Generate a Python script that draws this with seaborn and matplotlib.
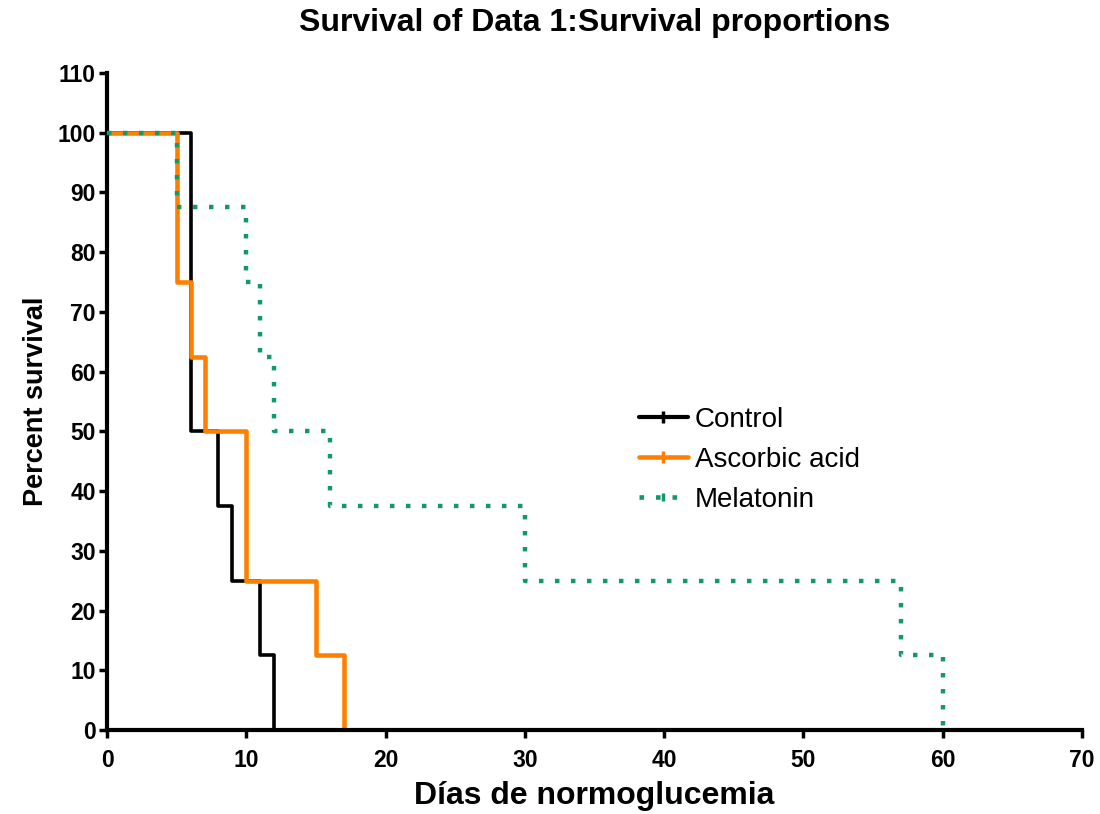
import numpy as np
import pandas as pd
import matplotlib
matplotlib.use("Agg")
import matplotlib.pyplot as plt
from matplotlib.lines import Line2D
import seaborn as sns

# Kaplan-Meier step values
control_days = [0, 6, 8, 9, 11, 12]
control_surv = [100, 50, 37.5, 25, 12.5, 0]

ascorbic_days = [0, 5, 6, 7, 10, 15, 17]
ascorbic_surv = [100, 75, 62.5, 50, 25, 12.5, 0]

melatonin_days = [0, 5, 10, 11, 12, 16, 30, 57, 60]
melatonin_surv = [100, 87.5, 75, 62.5, 50, 37.5, 25, 12.5, 0]

sns.set_style("ticks")
plt.rcParams['font.family'] = ['Liberation Sans', 'DejaVu Sans']
plt.rcParams.update({"text.color": "black", "axes.labelcolor": "black",
                     "xtick.color": "black", "ytick.color": "black",
                     "axes.edgecolor": "black"})

fig = plt.figure(figsize=(11, 8.14), dpi=100)
ax = fig.add_axes([0.0973, 0.1032, 0.8863, 0.8071])

c_black = "#000000"
c_orange = "#ff8000"
c_green = "#12996a"

sns.lineplot(x=melatonin_days, y=melatonin_surv, ax=ax, drawstyle="steps-post",
             estimator=None, sort=False, color=c_green, lw=3.2,
             linestyle=(0, (1, 2.6)), zorder=3)
sns.lineplot(x=control_days, y=control_surv, ax=ax, drawstyle="steps-post",
             estimator=None, sort=False, color=c_black, lw=2.6, zorder=2)
sns.lineplot(x=ascorbic_days, y=ascorbic_surv, ax=ax, drawstyle="steps-post",
             estimator=None, sort=False, color=c_orange, lw=3.3, zorder=2.5)

ax.set_xlim(0, 70)
ax.set_ylim(0, 110)
ax.set_xticks(np.arange(0, 71, 10))
ax.set_yticks(np.arange(0, 111, 10))
ax.margins(0)

for s in ["top", "right"]:
    ax.spines[s].set_visible(False)
for s in ["left", "bottom"]:
    ax.spines[s].set_linewidth(3)
ax.tick_params(axis="both", direction="out", length=6, width=2.5,
               labelsize=16.5, pad=2)
ax.tick_params(axis="x", pad=8)
for lab in ax.get_xticklabels() + ax.get_yticklabels():
    lab.set_fontweight("bold")

ax.set_title("Survival of Data 1:Survival proportions", fontsize=23,
             fontweight="bold", pad=30)
ax.set_xlabel("Días de normoglucemia", fontsize=23, fontweight="bold", labelpad=6)
ax.set_ylabel("Percent survival", fontsize=19.5, fontweight="bold", labelpad=6)

handles = [
    Line2D([], [], color=c_black, lw=3, marker="|", markersize=8, mew=2.5),
    Line2D([], [], color=c_orange, lw=3.3, marker="|", markersize=8, mew=2.5),
    Line2D([], [], color=c_green, lw=3.3, linestyle=(0, (1, 2.6)), marker="|",
           markersize=6, mew=2.5),
]
ax.legend(handles, ["Control", "Ascorbic acid", "Melatonin"],
          loc="upper left", bbox_to_anchor=(0.52, 0.53), frameon=False,
          fontsize=20, handlelength=1.75, handletextpad=0.25, labelspacing=0.5)

fig.savefig("out.png", dpi=100)
